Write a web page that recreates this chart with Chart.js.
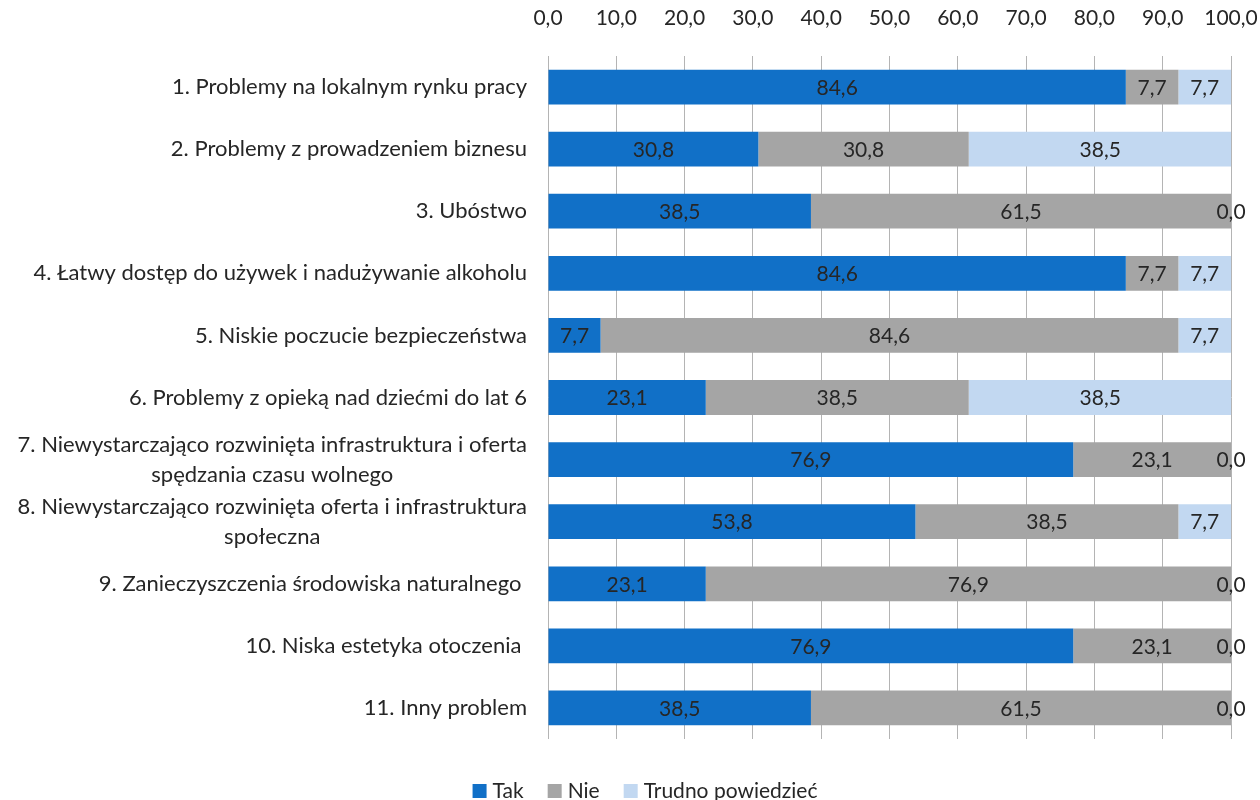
<!DOCTYPE html>
<html lang="pl">
<head>
<meta charset="utf-8">
<title>Problemy w gminie</title>
<script src="https://cdn.jsdelivr.net/npm/chart.js@4.4.1/dist/chart.umd.min.js"></script>
<style>
  html, body { margin: 0; padding: 0; background: #fff; }
  #wrap { width: 1260px; height: 800px; position: relative; }
</style>
</head>
<body>
<div id="wrap"><canvas id="chart"></canvas></div>
<script>
// Categories (multi-line ones are split into their lines)
const categories = [
  ['1. Problemy na lokalnym rynku pracy'],
  ['2. Problemy z prowadzeniem biznesu'],
  ['3. Ubóstwo'],
  ['4. Łatwy dostęp do używek i nadużywanie alkoholu'],
  ['5. Niskie poczucie bezpieczeństwa'],
  ['6. Problemy z opieką nad dziećmi do lat 6'],
  ['7. Niewystarczająco rozwinięta infrastruktura i oferta', 'spędzania czasu wolnego'],
  ['8. Niewystarczająco rozwinięta oferta i infrastruktura', 'społeczna'],
  ['9. Zanieczyszczenia środowiska naturalnego '],
  ['10. Niska estetyka otoczenia '],
  ['11. Inny problem']
];
const seriesNames = ['Tak', 'Nie', 'Trudno powiedzieć'];
const tak    = [84.6, 30.8, 38.5, 84.6, 7.7, 23.1, 76.9, 53.8, 23.1, 76.9, 38.5];
const nie    = [7.7, 30.8, 61.5, 7.7, 84.6, 38.5, 23.1, 38.5, 76.9, 23.1, 61.5];
const trudno = [7.7, 38.5, 0.0, 7.7, 7.7, 38.5, 0.0, 7.7, 0.0, 0.0, 0.0];
const xTicks = [0, 10, 20, 30, 40, 50, 60, 70, 80, 90, 100];

const colors = ['#1170c7', '#a5a5a5', '#c2d8f1'];
const FONT_FAMILY = 'Lato, "Open Sans", sans-serif';
const FONT_SIZE = 21;
const LABEL_SIZE = 22;
const TEXT = '#262626';
const GRID = '#b4b4b4';

const fmt = v => v.toFixed(1).replace('.', ',');
const font = size => `400 ${size}px ${FONT_FAMILY}`;

// category names on the left: right-aligned block, lines centred inside it
const categoryLabels = {
  id: 'categoryLabels',
  afterDraw(chart) {
    const { ctx, chartArea } = chart;
    const yScale = chart.scales.y;
    ctx.save();
    ctx.font = font(LABEL_SIZE);
    ctx.fillStyle = TEXT;
    ctx.textBaseline = 'middle';
    ctx.textAlign = 'center';
    const right = chartArea.left - 21;
    const lineH = 30;
    categories.forEach((lines, i) => {
      const cy = yScale.getPixelForValue(i);
      const maxW = Math.max(...lines.map(l => ctx.measureText(l).width));
      const cx = right - maxW / 2;
      lines.forEach((l, j) => {
        ctx.fillText(l, cx, cy + (j - (lines.length - 1) / 2) * lineH);
      });
    });
    ctx.restore();
  }
};

// value in the middle of every segment
const valueLabels = {
  id: 'valueLabels',
  afterDatasetsDraw(chart) {
    const { ctx } = chart;
    ctx.save();
    ctx.font = font(FONT_SIZE);
    ctx.fillStyle = TEXT;
    ctx.textBaseline = 'middle';
    ctx.textAlign = 'center';
    chart.data.datasets.forEach((ds, di) => {
      chart.getDatasetMeta(di).data.forEach((bar, i) => {
        ctx.fillText(fmt(ds.data[i]), (bar.x + bar.base) / 2, bar.y + 1);
      });
    });
    ctx.restore();
  }
};

// legend row under the plot
const bottomLegend = {
  id: 'bottomLegend',
  afterDraw(chart) {
    const { ctx } = chart;
    ctx.save();
    ctx.font = font(FONT_SIZE);
    ctx.textBaseline = 'middle';
    ctx.textAlign = 'left';
    const box = 14, gap = 6, spacing = 24;
    const widths = seriesNames.map(n => ctx.measureText(n).width);
    const total = widths.reduce((s, w) => s + box + gap + w, 0) + spacing * (seriesNames.length - 1);
    let x = 645 - total / 2;
    const y = 791;
    seriesNames.forEach((n, i) => {
      ctx.fillStyle = colors[i];
      ctx.fillRect(x, y - box / 2, box, box);
      ctx.fillStyle = TEXT;
      ctx.fillText(n, x + box + gap, y);
      x += box + gap + widths[i] + spacing;
    });
    ctx.restore();
  }
};

new Chart(document.getElementById('chart'), {
  type: 'bar',
  data: {
    labels: categories,
    datasets: [
      { label: seriesNames[0], data: tak, backgroundColor: colors[0] },
      { label: seriesNames[1], data: nie, backgroundColor: colors[1] },
      { label: seriesNames[2], data: trudno, backgroundColor: colors[2] }
    ]
  },
  options: {
    indexAxis: 'y',
    responsive: true,
    maintainAspectRatio: false,
    animation: false,
    layout: { padding: { top: 7, right: 29, bottom: 61, left: 0 } },
    datasets: {
      bar: { categoryPercentage: 1, barPercentage: 0.56, borderWidth: 0 }
    },
    scales: {
      x: {
        position: 'top',
        stacked: true,
        min: 0,
        max: 100,
        afterBuildTicks: scale => { scale.ticks = xTicks.map(v => ({ value: v })); },
        afterFit: scale => {
          scale.height = 49;
          scale.paddingLeft = 0;
          scale.paddingRight = 0;
        },
        ticks: {
          padding: 25,
          color: TEXT,
          font: { family: FONT_FAMILY, size: FONT_SIZE, weight: 400 },
          callback: v => fmt(v)
        },
        grid: { color: GRID, drawTicks: false },
        border: { display: false }
      },
      y: {
        stacked: true,
        ticks: { display: false },
        grid: { display: false },
        border: { display: false },
        afterFit: scale => { scale.width = 548; }
      }
    },
    plugins: {
      legend: { display: false },
      tooltip: { enabled: false }
    }
  },
  plugins: [categoryLabels, valueLabels, bottomLegend]
});
</script>
</body>
</html>
